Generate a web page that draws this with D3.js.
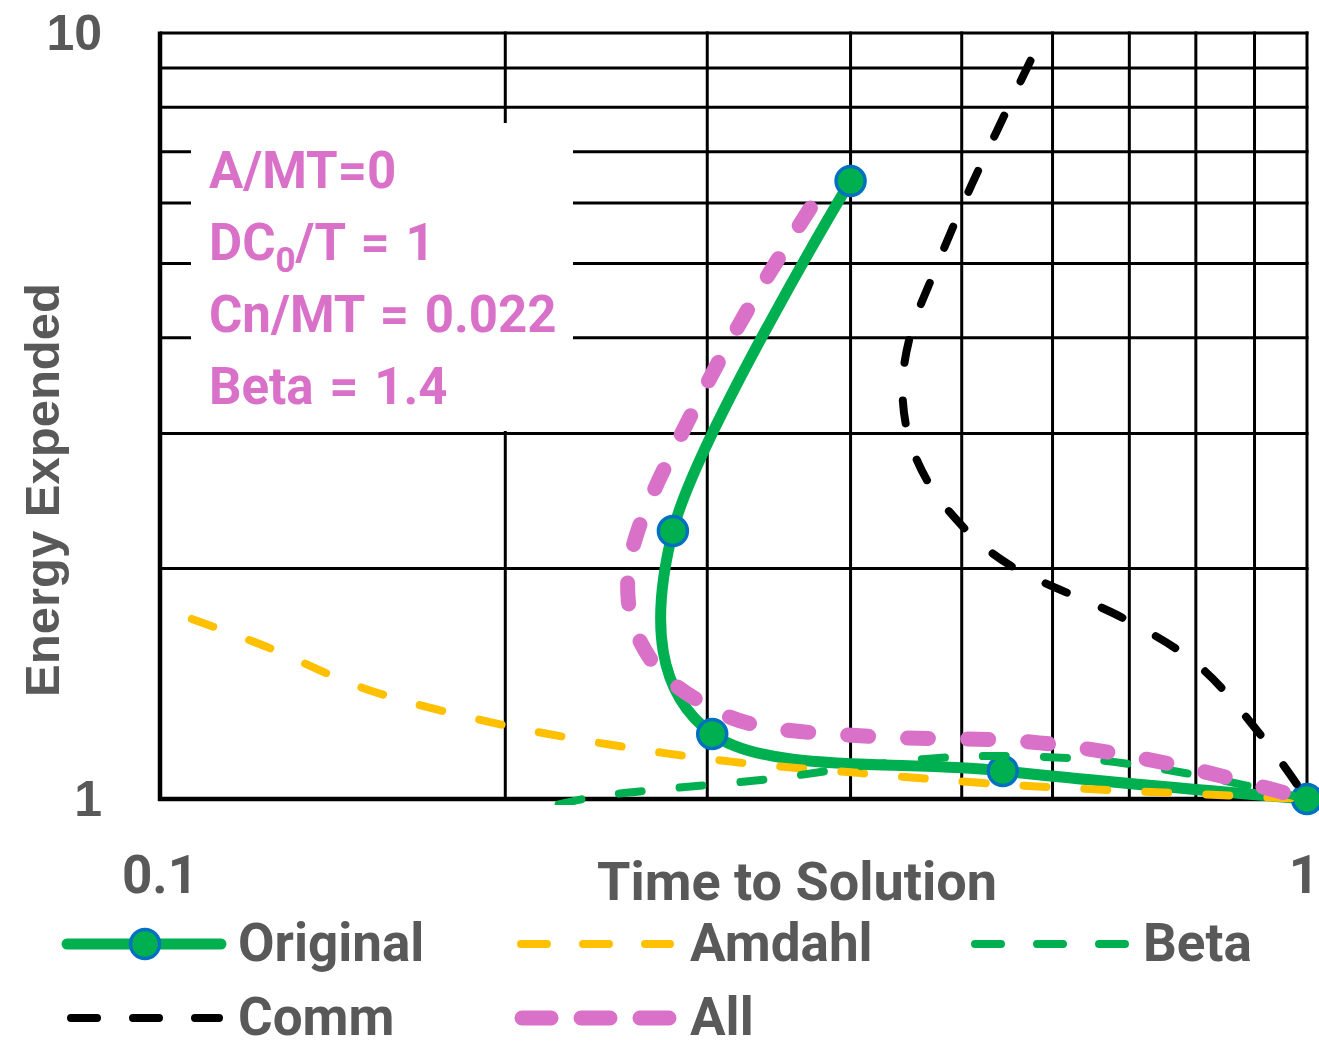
<!DOCTYPE html>
<html>
<head>
<meta charset="utf-8">
<script src="https://cdn.jsdelivr.net/npm/d3@7"></script>
<style>
  html, body { margin: 0; padding: 0; background: #fff; }
  svg { display: block; }
</style>
</head>
<body>
<div id="chart"></div>
<script>
// axis ticks and grid
const xTickLabels = [0.1, 1];
const yTickLabels = [1, 10];
const xGrid = [0.2, 0.3, 0.4, 0.5, 0.6, 0.7, 0.8, 0.9, 1];
const yGrid = [2, 3, 4, 5, 6, 7, 8, 9, 10];

// series: [time to solution, energy expended]
const original = [[1, 1], [0.543, 1.088], [0.303, 1.216], [0.280, 2.238], [0.400, 6.41]];
const amdahl = [[0.1066, 1.718], [0.124, 1.579], [0.152, 1.388], [0.194, 1.260], [0.248, 1.176],
  [0.316, 1.118], [0.408, 1.081], [0.522, 1.049], [0.673, 1.027], [1, 1]];
const beta = [[1, 1], [0.807, 1.072], [0.678, 1.118], [0.597, 1.134], [0.526, 1.138],
  [0.465, 1.128], [0.409, 1.104], [0.340, 1.062], [0.282, 1.034], [0.239, 1.006], [0.210, 0.962]];
const comm = [[1, 1], [0.914, 1.205], [0.807, 1.487], [0.691, 1.723], [0.552, 2.015],
  [0.488, 2.370], [0.455, 2.813], [0.444, 3.368], [0.451, 4.035], [0.474, 4.904],
  [0.510, 6.334], [0.574, 9.20]];
const all = [[1, 1], [0.760, 1.111], [0.574, 1.187], [0.424, 1.205], [0.334, 1.245],
  [0.294, 1.347], [0.268, 1.519], [0.256, 1.819], [0.262, 2.279], [0.294, 3.289],
  [0.329, 4.481], [0.369, 5.908]];

const notes = ["A/MT=0", "DC|0|/T = 1", "Cn/MT = 0.022", "Beta = 1.4"];

const width = 1319, height = 1042;
const plot = { left: 160, right: 1307, top: 33, bottom: 799 };
const grey = "#595959";
const green = "#00B050", yellow = "#FFC000", pink = "#D971C9", blue = "#0070C0";
const sans = "Roboto, 'Noto Sans', sans-serif";
const arial = "'Liberation Sans', Arial, sans-serif";

const x = d3.scaleLog().domain([0.1, 1]).range([plot.left, plot.right]);
const y = d3.scaleLog().domain([1, 10]).range([plot.bottom, plot.top]);

const svg = d3.select("#chart").append("svg")
  .attr("width", width)
  .attr("height", height);

svg.append("defs").append("clipPath")
  .attr("id", "clip")
  .append("rect")
  .attr("x", plot.left).attr("y", plot.top - 4)
  .attr("width", width - plot.left).attr("height", plot.bottom - plot.top + 10);

// grid
const grid = svg.append("g").attr("stroke", "#000").attr("stroke-width", 3);
grid.selectAll(".vx").data(xGrid).join("line")
  .attr("x1", d => x(d)).attr("x2", d => x(d))
  .attr("y1", plot.top - 1.5).attr("y2", plot.bottom);
grid.selectAll(".hy").data(yGrid).join("line")
  .attr("x1", plot.left).attr("x2", plot.right + 1.5)
  .attr("y1", d => y(d)).attr("y2", d => y(d));

// axes
svg.append("line")
  .attr("x1", plot.left).attr("x2", plot.left)
  .attr("y1", plot.top - 1.5).attr("y2", plot.bottom + 2)
  .attr("stroke", "#000").attr("stroke-width", 4.5);
svg.append("line")
  .attr("x1", plot.left - 2).attr("x2", plot.right + 1.5)
  .attr("y1", plot.bottom).attr("y2", plot.bottom)
  .attr("stroke", "#000").attr("stroke-width", 4.5);

// annotation box
svg.append("rect")
  .attr("x", 191).attr("y", 123).attr("width", 382).attr("height", 308)
  .attr("fill", "#fff");

const noteText = svg.append("g")
  .attr("fill", pink)
  .style("font-family", sans)
  .style("font-weight", 700)
  .style("font-size", "51px")
  .style("word-spacing", "3px");
notes.forEach((n, i) => {
  const t = noteText.append("text").attr("x", 209).attr("y", 188 + i * 72);
  const parts = n.split("|");
  if (parts.length === 1) {
    t.text(n);
  } else {
    t.append("tspan").text(parts[0]);
    t.append("tspan").attr("dy", 12).style("font-size", "35px").text(parts[1]);
    t.append("tspan").attr("dy", -12).text(parts[2]);
  }
});

// series
const line = d3.line()
  .x(d => x(d[0]))
  .y(d => y(d[1]))
  .curve(d3.curveCardinal.tension(0));

const series = [
  { name: "Original", data: original, color: green, w: 11, dash: null, lg: null },
  { name: "Amdahl", data: amdahl, color: yellow, w: 8, dash: [23, 38], lg: "26 36" },
  { name: "Beta", data: beta, color: green, w: 8, dash: [23, 38], lg: "26 36" },
  { name: "Comm", data: comm, color: "#000", w: 8, dash: [23, 38], lg: "26 36", endDash: true },
  { name: "All", data: all, color: pink, w: 15, dash: [21, 39], lg: "29 30", endDash: true }
];

const drawLine = s => {
  const p = svg.append("path")
    .datum(s.data)
    .attr("clip-path", "url(#clip)")
    .attr("fill", "none")
    .attr("stroke", s.color)
    .attr("stroke-width", s.w)
    .attr("stroke-linecap", "round")
    .attr("stroke-linejoin", "round")
    .attr("stroke-dasharray", s.dash ? s.dash.join(" ") : null)
    .attr("d", line);
  if (s.endDash) {
    // make the far end of the curve finish on a dash
    const period = s.dash[0] + s.dash[1];
    const len = p.node().getTotalLength();
    p.attr("stroke-dashoffset", s.dash[0] - (len % period));
  }
};

drawLine(series[0]);
svg.append("g").selectAll("circle")
  .data(original)
  .join("circle")
  .attr("cx", d => x(d[0]))
  .attr("cy", d => y(d[1]))
  .attr("r", 14.5)
  .attr("fill", green)
  .attr("stroke", blue)
  .attr("stroke-width", 3.5);
series.slice(1).forEach(drawLine);

// tick labels
svg.append("g").selectAll("text")
  .data(yTickLabels)
  .join("text")
  .attr("x", 102)
  .attr("y", d => y(d) + 17)
  .attr("text-anchor", "end")
  .attr("fill", grey)
  .style("font-family", arial)
  .style("font-weight", 700)
  .style("font-size", "50px")
  .text(d => d);

svg.append("g").selectAll("text")
  .data(xTickLabels)
  .join("text")
  .attr("x", d => Math.min(x(d), 1304))
  .attr("y", 893)
  .attr("text-anchor", "middle")
  .attr("fill", grey)
  .style("font-family", sans)
  .style("font-weight", 700)
  .style("font-size", "53px")
  .text(d => d);

// axis titles
svg.append("text")
  .attr("x", 797).attr("y", 900)
  .attr("text-anchor", "middle")
  .attr("fill", grey)
  .style("font-family", sans)
  .style("font-weight", 700)
  .style("font-size", "54px")
  .text("Time to Solution");

svg.append("text")
  .attr("transform", "translate(59,490) rotate(-90)")
  .attr("text-anchor", "middle")
  .attr("fill", grey)
  .style("font-family", arial)
  .style("font-weight", 700)
  .style("font-size", "49px")
  .text("Energy Expended");

// legend
const legendPos = [
  { x0: 67, x1: 221, tx: 238, y: 944 },
  { x0: 521, x1: 670, tx: 690, y: 944 },
  { x0: 975, x1: 1125, tx: 1143, y: 944 },
  { x0: 71, x1: 219, tx: 238, y: 1018 },
  { x0: 522, x1: 670, tx: 690, y: 1018 }
];

const legend = svg.append("g");
series.forEach((s, i) => {
  const p = legendPos[i];
  const g = legend.append("g");
  g.append("line")
    .attr("x1", p.x0).attr("x2", p.x1)
    .attr("y1", p.y).attr("y2", p.y)
    .attr("stroke", s.color)
    .attr("stroke-width", s.w)
    .attr("stroke-linecap", "round")
    .attr("stroke-dasharray", s.lg);
  if (i === 0) {
    g.append("circle")
      .attr("cx", 145).attr("cy", p.y).attr("r", 14.5)
      .attr("fill", green).attr("stroke", blue).attr("stroke-width", 3.5);
  }
  g.append("text")
    .attr("x", p.tx).attr("y", p.y + 17)
    .attr("fill", grey)
    .style("font-family", sans)
    .style("font-weight", 700)
    .style("font-size", "53px")
    .text(s.name);
});
</script>
</body>
</html>
